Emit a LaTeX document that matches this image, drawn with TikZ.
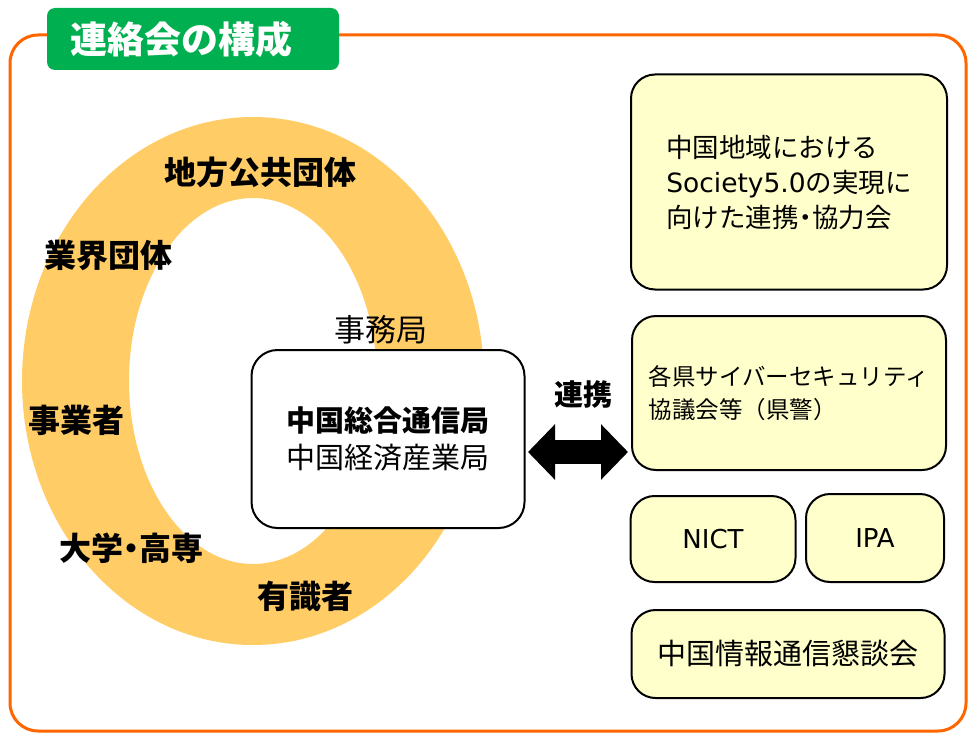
\documentclass[tikz,border=0pt]{standalone}
\usepackage{fontspec}
\setmainfont{Noto Sans CJK JP}
\newfontfamily\latinfont{DejaVu Sans}
\usetikzlibrary{arrows.meta}
\definecolor{framecol}{HTML}{FF6600}
\definecolor{titlecol}{HTML}{00B050}
\definecolor{ringcol}{HTML}{FFCC66}
\definecolor{boxcol}{HTML}{FFFFCC}
\newcommand{\middot}{\makebox[0.5em]{・}}

\begin{document}
\begin{tikzpicture}[x=1pt,y=-1pt,
    ringlabel/.style={font=\fontsize{32}{34}\selectfont\bfseries},
    partner/.style={draw,line width=2pt,fill=boxcol,rounded corners=24pt,inner sep=0pt},
    linkarrow/.style={line width=24pt,{Triangle[length=27pt,width=54pt]}-{Triangle[length=27pt,width=54pt]}}]
    \useasboundingbox (0,0) rectangle (968,733);

    % outer frame and title
    \draw[framecol,line width=3pt,rounded corners=28pt] (10,35) rectangle (966,731);
    \node[fill=titlecol,rounded corners=8pt,minimum height=62pt,inner xsep=23pt,
          text width=246pt,align=left,text=white,font=\fontsize{37}{40}\selectfont\bfseries]
          (title) at (193,39) {連絡会の構成};

    % the ring of members
    \fill[ringcol,even odd rule] (253,381) ellipse [x radius=231pt,y radius=264pt]
                                 (253,381) ellipse [x radius=124pt,y radius=183pt];
    \node[ringlabel] (gov)    at (260,172) {地方公共団体};
    \node[ringlabel] (assoc)  at (108,255) {業界団体};
    \node[ringlabel] (biz)    at (76,420)  {事業者};
    \node[ringlabel] (univ)   at (131,548) {大学\middot 高専};
    \node[ringlabel] (expert) at (305,596) {有識者};

    % secretariat
    \node[font=\fontsize{31}{33}\selectfont] (sec) at (381,330) {事務局};
    \node[draw,fill=white,line width=2pt,rounded corners=26pt,minimum width=273pt,
          minimum height=178pt,align=center,font=\fontsize{29}{37}\selectfont]
          (hub) at (388,439) {\textbf{中国総合通信局}\\中国経済産業局};

    % partners on the right
    \node[partner,minimum width=316pt,minimum height=215pt,align=left,
          font=\fontsize{26.5}{35}\selectfont]
          (forum) at (789,182) {中国地域における\\{\latinfont Society5.0}の実現に\\向けた連携\middot 協力会};
    \node[partner,minimum width=314pt,minimum height=154pt,align=left,
          font=\fontsize{23.5}{33}\selectfont]
          (cyber) at (789,393) {各県サイバーセキュリティ\\協議会等（県警）};
    \node[partner,minimum width=165pt,minimum height=86pt,font=\latinfont\fontsize{26}{30}\selectfont]
          (nict) at (713,539) {NICT};
    \node[partner,minimum width=138pt,minimum height=88pt,font=\latinfont\fontsize{26}{30}\selectfont]
          (ipa) at (875,538) {IPA};
    \node[partner,minimum width=313pt,minimum height=88pt,font=\fontsize{29}{31}\selectfont]
          (ict) at (788,654) {中国情報通信懇談会};

    % link between secretariat and partners
    \coordinate (linkL) at (528,452);
    \coordinate (linkR) at (628,452);
    \draw[linkarrow] (linkL) -- (linkR);
    \node[font=\fontsize{29}{31}\selectfont\bfseries] (link) at (583,395) {連携};
\end{tikzpicture}
\end{document}
